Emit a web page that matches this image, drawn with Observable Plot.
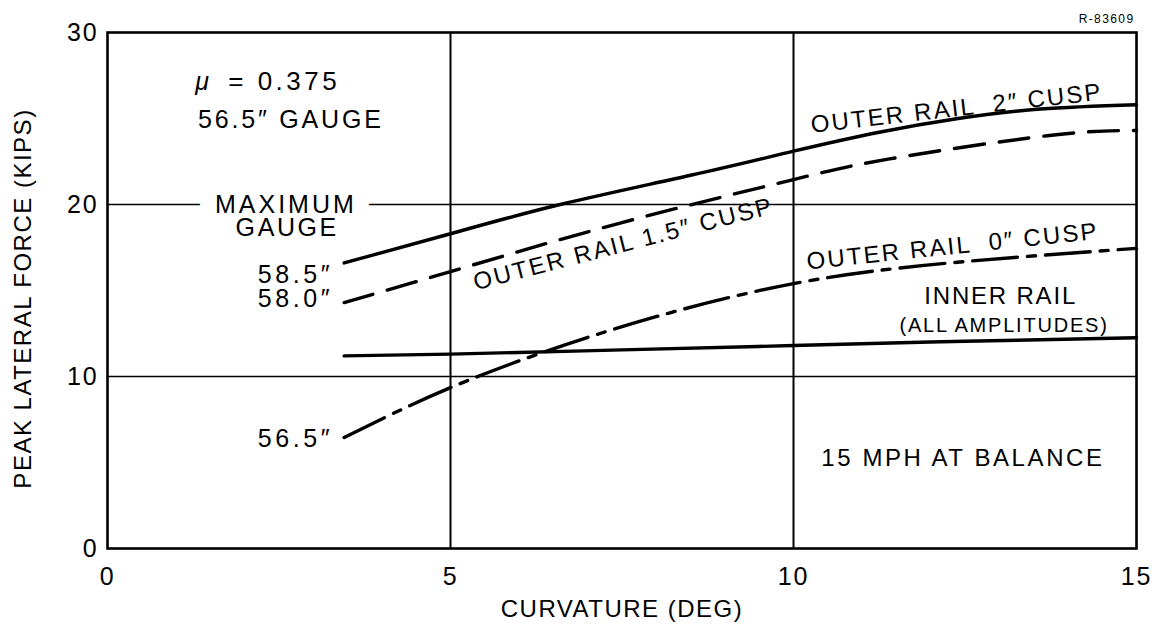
<!DOCTYPE html>
<html><head><meta charset="utf-8">
<script src="https://cdn.jsdelivr.net/npm/d3@7"></script>
<script src="https://cdn.jsdelivr.net/npm/@observablehq/plot@0.6"></script>
<style>
html,body{margin:0;padding:0;background:#fff;}
</style>
</head><body><div id="chart"></div>
<script>
// ---- data (curvature in degrees, peak lateral force in kips) ----
const xTicks = [0, 5, 10, 15];
const yTicks = [0, 10, 20, 30];
const xGrid = [5, 10];
const yGrid = [10, 20];

const outer2Curv  = [3.45, 5, 6.6, 8.5, 10, 11.25, 12.4, 13.6, 15];
const outer2Force = [16.6, 18.3, 20.0, 21.7, 23.1, 24.2, 25.0, 25.55, 25.8];

const outer15Curv  = [3.45, 5, 7.5, 10, 11.4, 13.7, 15];
const outer15Force = [14.3, 16.1, 18.95, 21.45, 22.65, 24.0, 24.3];

const outer0Curv  = [3.45, 5, 7.18, 10, 12.7, 15];
const outer0Force = [6.45, 9.35, 12.5, 15.4, 16.75, 17.45];

const innerCurv  = [3.45, 5, 7.5, 10, 12.5, 15];
const innerForce = [11.2, 11.3, 11.55, 11.8, 12.05, 12.25];

const toRows = (xs, ys) => xs.map((x, i) => ({x, y: ys[i]}));

const FONT = "'Liberation Sans', Arial, Helvetica, sans-serif";

// extra letter spacing for texts drawn wider in the original lettering
const spacing = {
  "= 0.375": 3.5,
  "56.5″ GAUGE": 2.8,
  "MAXIMUM": 3.0,
  "GAUGE": 2.6,
  "58.5″": 3.6,
  "58.0″": 3.6,
  "56.5″": 3.6,
  "15 MPH AT BALANCE": 2.6,
  "OUTER RAIL  2″ CUSP": 2.2,
  "OUTER RAIL  0″ CUSP": 2.2,
  "OUTER RAIL 1.5″ CUSP": 2.2,
  "PEAK LATERAL FORCE (KIPS)": 1.5,
  "CURVATURE (DEG)": 1.5,
  "R-83609": 1.4
};

const chart = Plot.plot({
  width: 1158,
  height: 632,
  marginLeft: 107,
  marginRight: 22,
  marginTop: 32,
  marginBottom: 84,
  x: {domain: [0, 15], label: null},
  y: {domain: [0, 30], label: null},
  style: {fontFamily: FONT, fontSize: "24px", letterSpacing: "1.8px", background: "white", color: "black"},
  marks: [
    Plot.ruleX(xGrid, {stroke: "black", strokeWidth: 2}),
    Plot.ruleY(yGrid, {stroke: "black", strokeWidth: 1.7}),
    Plot.frame({stroke: "black", strokeWidth: 2.6}),
    Plot.axisX({ticks: xTicks, tickSize: 0, tickPadding: 19, fontSize: 25, label: null, tickFormat: d => String(d)}),
    Plot.axisY({ticks: yTicks, tickSize: 0, tickPadding: 9, fontSize: 25, label: null, tickFormat: d => String(d)}),

    // curves
    Plot.line(toRows(outer2Curv, outer2Force), {x: "x", y: "y", curve: "natural", stroke: "black", strokeWidth: 3.4}),
    Plot.line(toRows(outer15Curv, outer15Force), {x: "x", y: "y", curve: "natural", stroke: "black", strokeWidth: 3.4, strokeDasharray: "30,15"}),
    Plot.line(toRows(outer0Curv, outer0Force), {x: "x", y: "y", curve: "natural", stroke: "black", strokeWidth: 3.4, strokeDasharray: "45,10,8,10"}),
    Plot.line(toRows(innerCurv, innerForce), {x: "x", y: "y", curve: "natural", stroke: "black", strokeWidth: 3.4}),

    // annotations
    Plot.text(["μ"], {x: 1.28, y: 27.12, text: d => d, textAnchor: "start", fontStyle: "italic", fontSize: 25}),
    Plot.text(["= 0.375"], {x: 1.76, y: 27.12, text: d => d, textAnchor: "start", fontSize: 26}),
    Plot.text(["56.5″ GAUGE"], {x: 1.32, y: 24.94, text: d => d, textAnchor: "start", fontSize: 25}),
    Plot.text(["MAXIMUM"], {x: 2.60, y: 20.0, text: d => d, fontSize: 25, stroke: "white", strokeWidth: 34, fill: "black", paintOrder: "stroke"}),
    Plot.text(["GAUGE"], {x: 2.62, y: 18.65, text: d => d, fontSize: 25}),
    Plot.text(["58.5″"], {x: 3.29, y: 15.93, text: d => d, textAnchor: "end", fontSize: 25}),
    Plot.text(["58.0″"], {x: 3.29, y: 14.48, text: d => d, textAnchor: "end", fontSize: 25}),
    Plot.text(["56.5″"], {x: 3.29, y: 6.34, text: d => d, textAnchor: "end", fontSize: 25}),
    Plot.text(["OUTER RAIL  2″ CUSP"], {x: 12.38, y: 25.58, text: d => d, rotate: -6.5, fontSize: 24}),
    Plot.text(["OUTER RAIL 1.5″ CUSP"], {x: 7.52, y: 17.7, text: d => d, rotate: -14.5, fontSize: 24}),
    Plot.text(["OUTER RAIL  0″ CUSP"], {x: 12.32, y: 17.56, text: d => d, rotate: -6, fontSize: 24}),
    Plot.text(["INNER RAIL"], {x: 13.02, y: 14.65, text: d => d, fontSize: 24}),
    Plot.text(["(ALL AMPLITUDES)"], {x: 13.07, y: 12.97, text: d => d, fontSize: 20}),
    Plot.text(["15 MPH AT BALANCE"], {x: 12.47, y: 5.23, text: d => d, fontSize: 24}),

    // axis titles and figure id
    Plot.text(["PEAK LATERAL FORCE (KIPS)"], {frameAnchor: "left", textAnchor: "middle", text: d => d, rotate: -90, dx: -84, dy: 8, fontSize: 24}),
    Plot.text(["CURVATURE (DEG)"], {frameAnchor: "bottom", textAnchor: "middle", text: d => d, dy: 68, fontSize: 24}),
    Plot.text(["R-83609"], {frameAnchor: "top-right", text: d => d, textAnchor: "end", dx: -2, dy: -18, fontSize: 12})
  ]
});

d3.select(chart).selectAll("text").each(function() {
  const s = spacing[this.textContent];
  if (s !== undefined) this.setAttribute("letter-spacing", s + "px");
});

document.getElementById("chart").appendChild(chart);
</script>
</body></html>
